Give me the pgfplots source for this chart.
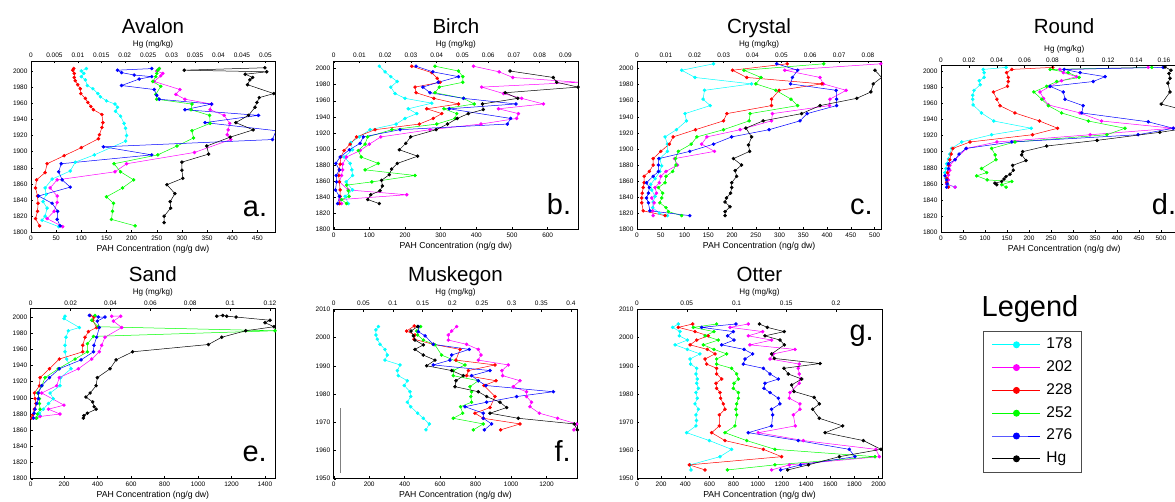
\documentclass[border=0pt]{standalone}
\usepackage{pgfplots}
\pgfplotsset{compat=1.18}
\usepackage{fontspec}
\setmainfont{Liberation Sans}

\definecolor{mcyan}{RGB}{0,255,255}
\definecolor{mmag}{RGB}{255,0,255}
\definecolor{mred}{RGB}{255,0,0}
\definecolor{mgreen}{RGB}{0,255,0}
\definecolor{mblue}{RGB}{0,0,255}

\pgfplotsset{
  panel/.style={scale only axis, anchor=south west,
    axis line style={-, line width=0.5pt},
    tick align=inside, major tick length=2.4pt,
    tick style={black, line width=0.4pt},
    tick label style={font=\fontsize{6.5}{7}\selectfont},
    /pgf/number format/assume math mode=true,
    /pgf/number format/fixed, /pgf/number format/precision=3,
    /pgf/number format/1000 sep={},
    scaled x ticks=false, scaled y ticks=false, xmin=0},
  pah/.style={panel, xtick pos=left, ytick pos=left,
    xlabel={PAH Concentration (ng/g dw)},
    xlabel style={font=\fontsize{8.7}{9}\selectfont, inner sep=1pt}},
  hg/.style={panel, hide y axis, xtick pos=right, xticklabel pos=right,
    xlabel={Hg (mg/kg)},
    xlabel style={font=\fontsize{8.1}{9}\selectfont, inner sep=1pt}},
  s178/.style={mcyan, mark=*, mark size=1.5pt, line width=0.5pt},
  s202/.style={mmag, mark=*, mark size=1.5pt, line width=0.5pt},
  s228/.style={mred, mark=*, mark size=1.5pt, line width=0.5pt},
  s252/.style={mgreen, mark=*, mark size=1.5pt, line width=0.5pt},
  s276/.style={mblue, mark=*, mark size=1.5pt, line width=0.5pt},
  shg/.style={black, mark=*, mark size=1.5pt, line width=0.5pt},
}
\newcommand{\ttl}[3]{\node[anchor=base, inner sep=0pt, font=\fontsize{20.5}{24}\selectfont] at (#1pt,#2pt) {#3};}
\newcommand{\lbl}[3]{\node[anchor=base west, inner sep=0pt, font=\fontsize{29}{30}\selectfont] at (#1pt,#2pt) {#3};}

\begin{document}
\begin{tikzpicture}

% ---------------- Avalon
\begin{axis}[pah, at={(31pt,-232.3pt)}, width=244pt, height=171.3pt,
  xmax=485, ymin=1800, ymax=2012.4,
  xtick={0,50,...,450}, ytick={1800,1820,...,2000}]
\addplot[s178] coordinates {(110,2003) (100,2000) (105,1997) (100,1993) (108,1989) (112,1982) (123,1978) (133,1972) (138,1968) (150,1963) (167,1959) (172,1955) (168,1950) (178,1944) (185,1935) (188,1929) (190,1920) (188,1913) (126,1896) (88,1887) (78,1876) (42,1866) (28,1855) (30,1847) (24,1838) (32,1830) (28,1820) (22,1815) (55,1807)};
\addplot[s202] coordinates {(255,2003) (250,2000) (262,1997) (258,1994) (245,1987) (296,1977) (288,1971) (306,1965) (359,1959) (356,1952) (384,1945) (395,1935) (392,1927) (390,1921) (397,1915) (325,1899) (190,1885) (167,1875) (52,1865) (38,1855) (52,1845) (52,1837) (46,1826) (32,1817) (63,1807)};
\addplot[s228] coordinates {(85,2003) (83,2001) (86,1997) (86,1992) (88,1988) (93,1983) (98,1978) (99,1972) (108,1966) (113,1961) (119,1956) (124,1952) (141,1946) (143,1936) (141,1930) (136,1921) (134,1916) (100,1905) (66,1895) (32,1885) (28,1874) (11,1865) (9,1855) (13,1845) (14,1836) (13,1826) (9,1817) (17,1808)};
\addplot[s252] coordinates {(255,2003) (252,2001) (250,1997) (248,1993) (242,1987) (258,1981) (248,1971) (250,1965) (320,1959) (318,1952) (355,1945) (356,1935) (320,1926) (323,1917) (290,1907) (252,1896) (165,1885) (178,1875) (204,1865) (182,1855) (150,1844) (164,1836) (162,1826) (160,1816) (207,1808)};
\addplot[s276] coordinates {(240,2003) (172,2001) (180,1998) (205,1995) (240,1993) (215,1990) (180,1982) (245,1977) (250,1970) (255,1965) (359,1959) (306,1952) (452,1945) (346,1936) (487,1926) (480,1915) (144,1906) (240,1896) (60,1885) (55,1875) (62,1865) (78,1856) (15,1845) (42,1836) (53,1826) (52,1816) (58,1808)};
\end{axis}
\begin{axis}[hg, at={(31pt,-232.3pt)}, width=244pt, height=171.3pt,
  xmax=0.05206, ymin=1800, ymax=2012.4,
  xtick={0,0.005,0.01,0.015,0.02,0.025,0.03,0.035,0.04,0.045,0.05}]
\addplot[shg] coordinates {(0.0499,2004) (0.0327,2001) (0.0503,1999) (0.0457,1996) (0.0473,1992) (0.0467,1989) (0.0462,1983) (0.0518,1972) (0.0487,1967) (0.0482,1961) (0.0478,1955) (0.0464,1945) (0.0437,1936) (0.0474,1927) (0.0425,1918) (0.0375,1907) (0.0379,1897) (0.0322,1887) (0.0322,1877) (0.0324,1867) (0.029,1859) (0.0307,1848) (0.0297,1838) (0.0298,1830) (0.0284,1820) (0.0284,1812)};
\end{axis}

% ---------------- Birch
\begin{axis}[pah, at={(333.7pt,-229.3pt)}, width=244.3pt, height=168.3pt,
  xmax=685, ymin=1800, ymax=2009.5,
  xtick={0,100,...,600}, ytick={1800,1820,...,2000}]
\addplot[s178] coordinates {(128,2003) (144,1996) (160,1990) (178,1984) (160,1977) (172,1969) (200,1963) (275,1957) (209,1950) (233,1944) (200,1938) (175,1931) (102,1924) (72,1915) (48,1908) (53,1899) (29,1890) (46,1882) (51,1874) (53,1867) (35,1859) (53,1849) (32,1841) (41,1832)};
\addplot[s202] coordinates {(392,2003) (464,1996) (502,1989) (687,1983) (415,1977) (476,1969) (527,1963) (588,1956) (462,1950) (518,1944) (513,1938) (413,1931) (270,1924) (132,1915) (100,1906) (74,1898) (36,1890) (25,1881) (25,1874) (22,1867) (16,1859) (41,1849) (205,1843) (18,1837) (22,1832)};
\addplot[s228] coordinates {(219,2003) (275,1995) (290,1988) (298,1983) (228,1977) (231,1970) (281,1963) (350,1956) (261,1950) (303,1944) (279,1938) (240,1931) (116,1924) (64,1915) (46,1906) (29,1898) (20,1890) (18,1881) (16,1874) (14,1867) (16,1859) (18,1849) (18,1841) (16,1832)};
\addplot[s252] coordinates {(284,2003) (350,1997) (362,1990) (362,1983) (296,1977) (284,1970) (364,1963) (394,1956) (309,1950) (345,1944) (340,1938) (289,1931) (163,1924) (95,1915) (88,1906) (69,1898) (77,1890) (125,1882) (88,1874) (228,1867) (107,1859) (36,1855) (41,1848) (43,1841) (22,1837) (36,1832)};
\addplot[s276] coordinates {(231,2003) (278,1996) (350,1990) (293,1983) (250,1977) (270,1970) (364,1963) (511,1956) (324,1950) (496,1938) (487,1931) (186,1924) (83,1915) (74,1907) (44,1899) (18,1890) (6,1882) (16,1874) (7,1867) (8,1859) (5,1849) (16,1841) (11,1832)};
\end{axis}
\begin{axis}[hg, at={(333.7pt,-229.3pt)}, width=244.3pt, height=168.3pt,
  xmax=0.0949, ymin=1800, ymax=2009.5,
  xtick={0,0.01,0.02,0.03,0.04,0.05,0.06,0.07,0.08,0.09}]
\addplot[shg] coordinates {(0.0685,1997) (0.0853,1989) (0.0866,1983) (0.0949,1977) (0.0666,1970) (0.0715,1963) (0.0578,1956) (0.0581,1949) (0.0523,1944) (0.048,1938) (0.0442,1931) (0.0398,1924) (0.0299,1915) (0.028,1907) (0.0255,1899) (0.0326,1891) (0.0247,1882) (0.0225,1875) (0.0216,1868) (0.0186,1861) (0.0189,1854) (0.018,1848) (0.0144,1843) (0.0132,1837) (0.0177,1832)};
\end{axis}

% ---------------- Crystal
\begin{axis}[pah, at={(637pt,-229.3pt)}, width=244.3pt, height=168.3pt,
  xmax=514, ymin=1800, ymax=2009.5,
  xtick={0,50,...,500}, ytick={1800,1820,...,2000}]
\addplot[s178] coordinates {(161,2006) (94,1998) (122,1989) (241,1981) (142,1973) (139,1962) (154,1954) (101,1944) (104,1935) (83,1924) (59,1915) (64,1906) (64,1897) (48,1888) (52,1879) (48,1872) (38,1863) (29,1856) (31,1849) (38,1841) (34,1834) (33,1827) (47,1820) (64,1817)};
\addplot[s202] coordinates {(513,2006) (311,1998) (385,1989) (392,1981) (440,1973) (406,1962) (405,1954) (285,1944) (283,1935) (217,1924) (147,1915) (136,1906) (163,1897) (79,1888) (85,1880) (61,1872) (50,1866) (47,1858) (38,1852) (41,1845) (31,1839) (36,1833) (33,1823) (34,1817)};
\addplot[s228] coordinates {(316,2006) (201,1998) (231,1989) (389,1981) (299,1973) (283,1962) (283,1954) (189,1944) (182,1935) (123,1924) (76,1915) (68,1906) (50,1897) (34,1888) (34,1880) (26,1872) (15,1866) (15,1858) (13,1852) (11,1845) (10,1839) (10,1833) (13,1823) (59,1817)};
\addplot[s252] coordinates {(393,2006) (225,1998) (261,1989) (250,1981) (292,1973) (324,1962) (338,1954) (238,1944) (236,1935) (182,1924) (126,1915) (114,1906) (87,1897) (81,1888) (82,1880) (75,1872) (61,1866) (59,1858) (45,1852) (54,1845) (52,1839) (48,1833) (61,1827) (66,1822) (94,1817)};
\addplot[s276] coordinates {(294,2006) (338,1998) (327,1989) (323,1981) (419,1973) (420,1962) (420,1954) (358,1944) (343,1935) (278,1924) (199,1915) (161,1906) (111,1897) (46,1888) (45,1880) (45,1872) (34,1866) (20,1858) (26,1852) (24,1845) (20,1839) (24,1833) (27,1823) (111,1817)};
\end{axis}
\begin{axis}[hg, at={(637pt,-229.3pt)}, width=244.3pt, height=168.3pt,
  xmax=0.0846, ymin=1800, ymax=2009.5,
  xtick={0,0.01,0.02,0.03,0.04,0.05,0.06,0.07,0.08}]
\addplot[shg] coordinates {(0.0824,1998) (0.0847,1989) (0.0818,1981) (0.081,1971) (0.0761,1963) (0.0634,1954) (0.057,1944) (0.0437,1935) (0.0377,1926) (0.0397,1915) (0.0386,1905) (0.039,1897) (0.0334,1888) (0.0362,1880) (0.034,1873) (0.0345,1866) (0.0328,1858) (0.0328,1852) (0.0324,1845) (0.031,1839) (0.0305,1834) (0.0322,1828) (0.0305,1822) (0.0305,1817)};
\end{axis}

% ---------------- Round
\begin{axis}[pah, at={(941pt,-232.3pt)}, width=246.4pt, height=166.6pt,
  xmax=560, ymin=1800, ymax=2006.6,
  xtick={0,50,...,500}, ytick={1800,1820,...,2000}]
\addplot[s178] coordinates {(148,2004.5) (96,2002) (98,1998) (98,1992) (87,1988) (89,1983) (75,1976) (72,1970) (72,1965) (73,1958) (92,1948) (120,1938) (205,1929) (115,1921) (47,1912) (24,1904) (20,1897) (17,1891) (13,1885) (11,1879) (9,1874) (11,1867) (13,1862) (15,1859) (32,1856)};
\addplot[s202] coordinates {(471,2004.5) (270,2002) (278,1998) (308,1993) (274,1988) (248,1981) (225,1974) (233,1966) (244,1958) (316,1948) (365,1938) (528,1929) (339,1921) (127,1912) (58,1904) (32,1890) (20,1883) (20,1877) (17,1871) (17,1865) (13,1860) (32,1856)};
\addplot[s228] coordinates {(254,2004.5) (161,2002) (149,1998) (153,1992) (153,1987) (151,1981) (119,1974) (127,1965) (134,1957) (168,1948) (224,1938) (265,1929) (208,1921) (66,1912) (27,1904) (23,1897) (20,1890) (17,1883) (15,1874) (13,1867) (13,1862) (17,1856)};
\addplot[s252] coordinates {(479,2004.5) (248,2002) (289,1998) (314,1992) (263,1987) (240,1981) (211,1974) (229,1965) (244,1957) (274,1948) (335,1938) (418,1929) (377,1921) (168,1912) (115,1904) (123,1896) (125,1890) (92,1879) (104,1874) (81,1870) (105,1865) (161,1863) (138,1859) (148,1856)};
\addplot[s276] coordinates {(505,2004.5) (280,2002) (316,1998) (373,1993) (346,1987) (248,1981) (278,1974) (282,1965) (323,1957) (320,1948) (471,1937) (528,1929) (448,1921) (161,1912) (57,1904) (41,1897) (32,1890) (17,1885) (17,1879) (9,1870) (13,1865) (14,1860) (13,1856)};
\end{axis}
\begin{axis}[hg, at={(941pt,-232.3pt)}, width=246.4pt, height=166.6pt,
  xmax=0.1768, ymin=1800, ymax=2006.6,
  xtick={0,0.02,0.04,0.06,0.08,0.1,0.12,0.14,0.16}]
\addplot[shg] coordinates {(0.1607,2005) (0.165,2001) (0.1636,1997) (0.1643,1991) (0.1628,1985) (0.1643,1974) (0.158,1959) (0.178,1950) (0.18,1940) (0.1765,1929) (0.157,1924) (0.112,1914) (0.0758,1907) (0.0586,1900) (0.0579,1896) (0.061,1889) (0.0514,1883) (0.0519,1877) (0.0495,1872) (0.0466,1869) (0.0452,1866) (0.0435,1863) (0.0387,1861) (0.040,1859)};
\end{axis}

% ---------------- Sand
\begin{axis}[pah, at={(30.7pt,-478.7pt)}, width=244.3pt, height=170pt,
  xmax=1460, ymin=1800, ymax=2010.3,
  xtick={0,200,...,1400}, ytick={1800,1820,...,2000}]
\addplot[s178] coordinates {(205,2001) (199,1998) (291,1987) (225,1983) (211,1975) (205,1965) (205,1957) (215,1948) (241,1936) (179,1925) (175,1915) (116,1906) (135,1899) (106,1893) (76,1886) (52,1881) (56,1878) (32,1875)};
\addplot[s202] coordinates {(484,2001) (538,2001) (494,1995) (544,1987) (444,1975) (424,1965) (410,1957) (365,1948) (285,1936) (171,1925) (155,1915) (66,1906) (199,1891) (106,1886) (175,1880) (56,1877) (32,1875)};
\addplot[s228] coordinates {(355,2002) (378,2000) (371,1996) (394,1987) (345,1982) (325,1975) (311,1965) (311,1957) (171,1948) (112,1936) (56,1925) (52,1915) (22,1906) (26,1899) (32,1893) (22,1886) (12,1879) (6,1875)};
\addplot[s252] coordinates {(384,2002) (365,1996) (404,1988) (1460,1983) (375,1976) (339,1967) (339,1957) (265,1948) (165,1936) (86,1925) (66,1915) (40,1906) (52,1899) (52,1893) (56,1886) (40,1880) (36,1875)};
\addplot[s276] coordinates {(351,2002) (404,2000) (444,2000) (398,1995) (410,1987) (394,1975) (378,1965) (375,1957) (301,1947) (171,1936) (112,1925) (66,1915) (46,1906) (46,1899) (36,1893) (26,1886) (20,1881) (16,1875)};
\end{axis}
\begin{axis}[hg, at={(30.7pt,-478.7pt)}, width=244.3pt, height=170pt,
  xmax=0.1225, ymin=1800, ymax=2010.3,
  xtick={0,0.02,0.04,0.06,0.08,0.1,0.12}]
\addplot[shg] coordinates {(0.0933,2001) (0.0963,2002) (0.0983,2001) (0.103,2000) (0.12,1996) (0.1175,1993) (0.122,1988) (0.1078,1983) (0.0958,1975) (0.0891,1966) (0.0511,1957) (0.0428,1947) (0.0398,1936) (0.0334,1925) (0.0328,1915) (0.0298,1906) (0.0277,1901) (0.0311,1895) (0.0318,1889) (0.0328,1886) (0.0284,1881) (0.0267,1878) (0.0264,1875)};
\end{axis}

% ---------------- Muskegon
\begin{axis}[pah, at={(333.7pt,-478.7pt)}, width=243.6pt, height=169.4pt,
  xmax=1373, ymin=1950, ymax=2010,
  xtick={0,200,...,1200}, ytick={1950,1960,...,2010}]
\addplot[gray, line width=0.8pt] coordinates {(36,1952) (36,1975)};
\addplot[s178] coordinates {(252,2003.9) (238,2002.7) (238,2000.9) (246,1999.4) (261,1997.6) (289,1995.8) (302,1993.8) (289,1992) (374,1990.3) (359,1988.3) (364,1986.5) (415,1984.7) (398,1983) (430,1980.8) (434,1979.1) (415,1977.1) (434,1975.5) (473,1973.2) (505,1971.4) (539,1969.4) (520,1967.3)};
\addplot[s202] coordinates {(693,2003.9) (665,2002.3) (646,2000.9) (646,1999.1) (749,1997.6) (815,1995.8) (830,1993.8) (815,1992) (984,1990.3) (948,1988.3) (952,1986.5) (1050,1984.7) (1012,1982.6) (1087,1980.8) (1087,1979.1) (1115,1977.1) (1106,1975.5) (1159,1973.2) (1262,1971.4) (1370,1969.4) (1354,1967.3)};
\addplot[s228] coordinates {(454,2004.1) (411,2002.3) (458,2000.9) (453,1999.4) (561,1997.6) (712,1995.8) (689,1992) (909,1990.3) (759,1988.3) (749,1986.5) (915,1984.7) (847,1983) (909,1979.1) (881,1975.2) (796,1973.2) (843,1971.4) (1050,1969.4) (941,1967.3)};
\addplot[s252] coordinates {(490,2003.9) (468,2002.3) (473,2000.9) (505,1999.1) (571,1997.4) (608,1993.8) (740,1990.3) (674,1988.3) (674,1986.5) (815,1984.7) (768,1982.6) (777,1980.8) (773,1979.1) (777,1977.1) (715,1975.5) (727,1973.2) (674,1971.4) (843,1969.4) (787,1967.3)};
\addplot[s276] coordinates {(477,2003.9) (477,2002.1) (515,2000.6) (561,1997.6) (764,1995.8) (665,1993.8) (655,1992) (561,1990.3) (881,1988.3) (777,1986.5) (815,1984.7) (858,1983) (1238,1980.8) (1031,1979.1) (862,1977.1) (740,1975.5) (843,1973.2) (843,1971.4) (890,1969.4) (849,1967.3)};
\end{axis}
\begin{axis}[hg, at={(333.7pt,-478.7pt)}, width=243.6pt, height=169.4pt,
  xmax=0.4107, ymin=1950, ymax=2010,
  xtick={0,0.05,0.1,0.15,0.2,0.25,0.3,0.35,0.4}]
\addplot[shg] coordinates {(0.1416,2003.9) (0.1303,2002.3) (0.1343,2000.6) (0.137,1999.1) (0.1511,1997.4) (0.137,1995.8) (0.151,1993.8) (0.1708,1992) (0.1567,1990) (0.1989,1988.3) (0.2185,1986.5) (0.2062,1984.7) (0.2045,1982.6) (0.2438,1980.8) (0.2579,1979.1) (0.2803,1977.1) (0.2916,1975.2) (0.2635,1973.2) (0.3112,1971.4) (0.4056,1969.4) (0.4107,1967.3)};
\end{axis}

% ---------------- Otter
\begin{axis}[pah, at={(637pt,-478.7pt)}, width=245pt, height=169.4pt,
  xmax=2028, ymin=1950, ymax=2010,
  xtick={0,200,...,2000}, ytick={1950,1960,...,2010}]
\addplot[s178] coordinates {(342,2004.8) (295,2003.6) (356,2002.1) (350,2000.6) (417,1999.1) (315,1997.4) (417,1995.8) (521,1994.2) (439,1992.4) (444,1990.6) (494,1989.1) (488,1987.1) (499,1985.3) (494,1983.8) (508,1982) (488,1980.5) (499,1978.5) (480,1976.5) (508,1974.6) (488,1972.6) (492,1970.6) (488,1968.7) (411,1966.3) (599,1963.5) (783,1960.4) (687,1957.8) (439,1954.9) (447,1953.1)};
\addplot[s202] coordinates {(921,2004.8) (770,2003.6) (1040,2002.1) (921,2000.6) (1114,1999.1) (935,1997.4) (1308,1995.8) (1128,1994.2) (1101,1992.4) (1343,1990.6) (1335,1989.1) (1343,1987.1) (1354,1985.3) (1343,1983.8) (1266,1980.5) (1261,1978.5) (1349,1976.5) (1349,1974.6) (1294,1972.6) (1310,1968.7) (1004,1966.3) (1377,1963.5) (1978,1960.4) (2006,1957.8) (1261,1954.9) (1114,1953.1)};
\addplot[s228] coordinates {(461,2004.8) (342,2003.6) (480,2002.1) (590,2000.6) (494,1999.1) (439,1997.4) (582,1995.8) (646,1994.2) (563,1992.4) (577,1990.6) (659,1989.1) (659,1987.1) (701,1985.3) (654,1983.8) (659,1982) (687,1980.5) (692,1978.5) (714,1976.5) (728,1974.6) (681,1972.6) (681,1968.7) (618,1966.3) (728,1963.5) (1046,1960.4) (1197,1957.8) (433,1954.9) (563,1953.1)};
\addplot[s252] coordinates {(659,2004.8) (466,2003.6) (637,2002.1) (563,2000.6) (673,1999.1) (549,1997.4) (637,1995.8) (742,1994.2) (659,1992.4) (659,1990.6) (783,1989.1) (825,1987.1) (839,1985.3) (803,1983.8) (797,1982) (839,1980.5) (839,1978.5) (825,1976.5) (819,1974.6) (825,1972.6) (811,1968.7) (728,1966.3) (908,1963.5) (1142,1960.4) (1970,1957.8) (1142,1954.9) (748,1953.1)};
\addplot[s276] coordinates {(819,2004.8) (535,2003.6) (797,2002.1) (750,2000.6) (803,1999.1) (701,1997.4) (886,1995.8) (957,1994.2) (894,1992.4) (880,1990.6) (1046,1989.1) (1101,1987.1) (1170,1985.3) (1059,1983.8) (1051,1982) (1101,1980.5) (1170,1978.5) (1183,1976.5) (1114,1974.6) (1123,1972.6) (1114,1968.7) (921,1966.3) (1335,1963.5) (1757,1960.4) (1804,1957.8) (1354,1954.9) (1189,1953.1)};
\end{axis}
\begin{axis}[hg, at={(637pt,-478.7pt)}, width=245pt, height=169.4pt,
  xmax=0.2462, ymin=1950, ymax=2010,
  xtick={0,0.05,0.1,0.15,0.2}]
\addplot[shg] coordinates {(0.123,2004.8) (0.131,2003.6) (0.148,2002.1) (0.1286,2000.6) (0.1437,1999.1) (0.148,1997.4) (0.1353,1994.2) (0.138,1992.6) (0.184,1990.8) (0.1477,1989.1) (0.152,1987.1) (0.1655,1985.3) (0.1554,1983.2) (0.1578,1980.9) (0.178,1978.8) (0.1832,1976.5) (0.1765,1974.6) (0.1832,1971.4) (0.2067,1968.7) (0.189,1966.3) (0.2275,1963.5) (0.2452,1960.4) (0.2034,1957.8) (0.1722,1954.9) (0.1514,1953.1)};
\end{axis}

% ---------------- legend
\begin{axis}[scale only axis, hide axis, anchor=south west,
  at={(982.7pt,-472.3pt)}, width=95pt, height=141.6pt,
  xmin=0, xmax=1, ymin=0, ymax=1,
  legend cell align=left,
  legend image code/.code={\draw[#1, mark repeat=2, mark phase=2, line width=0.9pt, mark size=3pt] plot coordinates {(0pt,0pt) (24pt,0pt) (48pt,0pt)};},
  legend style={at={(0,1)}, anchor=north west, draw=black!70, line width=0.6pt,
    inner xsep=9pt, inner ysep=6.8pt, row sep=8.8pt,
    font=\fontsize{15.5}{18}\selectfont,
    nodes={inner sep=0pt, text height=11pt, text depth=3pt},
    /tikz/every odd column/.append style={column sep=5.5pt}}]
\addlegendimage{mcyan, mark=*}\addlegendentry{178}
\addlegendimage{mmag, mark=*}\addlegendentry{202}
\addlegendimage{mred, mark=*}\addlegendentry{228}
\addlegendimage{mgreen, mark=*}\addlegendentry{252}
\addlegendimage{mblue, mark=*}\addlegendentry{276}
\addlegendimage{black, mark=*}\addlegendentry{Hg}
\end{axis}

% ---------------- titles and panel letters
\ttl{153}{-33.3}{Avalon}
\ttl{455.9}{-33.3}{Birch}
\ttl{759}{-33.3}{Crystal}
\ttl{1064}{-33.3}{Round}
\ttl{152.8}{-281.7}{Sand}
\ttl{455.5}{-281.7}{Muskegon}
\ttl{759.5}{-281.7}{Otter}
\node[anchor=base, inner sep=0pt, font=\fontsize{29}{30}\selectfont] at (1030pt,-316.7pt) {Legend};
\lbl{242.7}{-216.7}{a.}
\lbl{546.7}{-215}{b.}
\lbl{850}{-215}{c.}
\lbl{1151.7}{-215}{d.}
\lbl{242.3}{-461.7}{e.}
\lbl{554.3}{-461.7}{f.}
\lbl{849.3}{-341}{g.}

\pgfresetboundingbox
\path[use as bounding box] (0,0) rectangle (1175pt,-502pt);
\end{tikzpicture}
\end{document}
